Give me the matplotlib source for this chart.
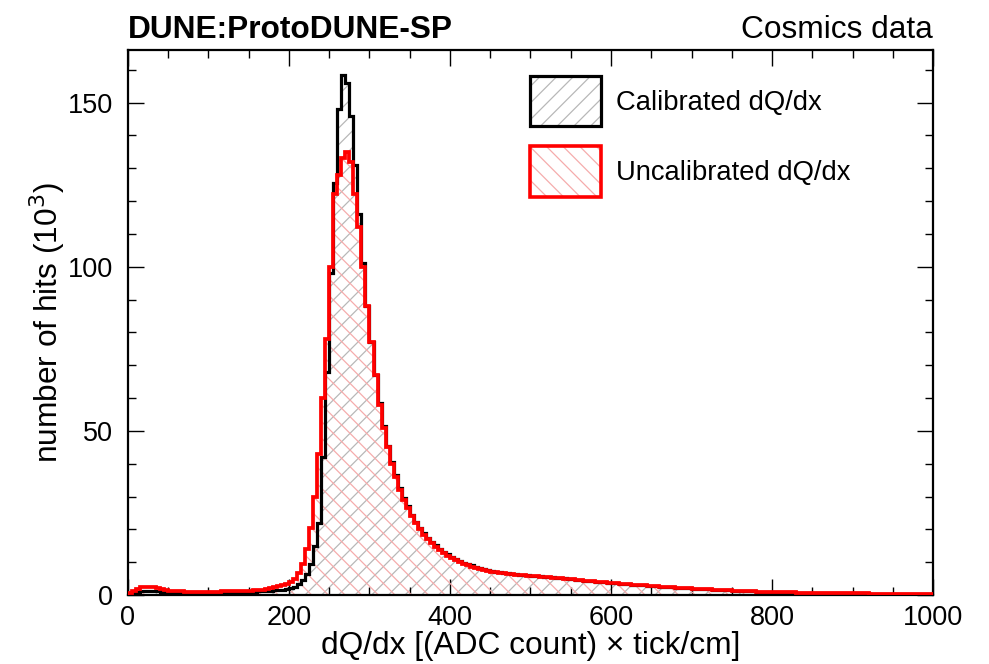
import numpy as np
import matplotlib
matplotlib.use('Agg')
import matplotlib.pyplot as plt
from matplotlib.patches import Patch
from matplotlib.ticker import MultipleLocator

plt.rcParams['font.family'] = ['Liberation Sans', 'DejaVu Sans']
plt.rcParams['hatch.linewidth'] = 0.9

######################################################

## Histogram contents, 200 bins of 5 between 0 and 1000 (hits in 10^3)

bin_lo = 0
bin_hi = 1000
n_bins = 200

calibrated = [
	0.4, 0.8, 1.0, 1.2, 1.3, 1.3, 1.2, 1.1, 1.0, 0.9,
	0.9, 0.8, 0.8, 0.8, 0.8, 0.8, 0.8, 0.8, 0.8, 0.8,
	0.8, 0.8, 0.8, 0.85, 0.85, 0.9, 0.9, 0.9, 0.95, 0.95,
	1.0, 1.0, 1.1, 1.1, 1.2, 1.3, 1.4, 1.5, 1.6, 1.7,
	2.0, 2.5, 3.3, 4.6, 6.5, 9.5, 15, 22, 42, 68,
	98, 125.5, 148, 158.5, 156, 146, 131, 116, 101, 88,
	77, 67, 58.5, 51.5, 45.5, 40.5, 36.5, 32.5, 29.5, 27,
	24.5, 22.3, 20.4, 18.8, 17.4, 16.2, 15.1, 14.1, 13.2, 12.4,
	11.7, 11.0, 10.4, 9.9, 9.4, 9.0, 8.6, 8.2, 7.9, 7.6,
	7.3, 7.1, 6.9, 6.8, 6.6, 6.5, 6.3, 6.2, 6.1, 6.0,
	5.9, 5.8, 5.7, 5.6, 5.5, 5.4, 5.3, 5.2, 5.1, 5.0,
	4.8, 4.7, 4.5, 4.4, 4.3, 4.2, 4.1, 4.0, 3.9, 3.8,
	3.7, 3.6, 3.5, 3.4, 3.3, 3.2, 3.1, 3.0, 2.9, 2.8,
	2.7, 2.6, 2.5, 2.45, 2.4, 2.3, 2.2, 2.15, 2.1, 2.0,
	1.95, 1.9, 1.8, 1.75, 1.7, 1.6, 1.55, 1.5, 1.45, 1.4,
	1.35, 1.3, 1.25, 1.2, 1.15, 1.1, 1.05, 1.0, 1.0, 0.95,
	0.9, 0.9, 0.85, 0.85, 0.8, 0.8, 0.75, 0.75, 0.7, 0.7,
	0.68, 0.66, 0.64, 0.62, 0.6, 0.58, 0.56, 0.55, 0.54, 0.52,
	0.5, 0.49, 0.48, 0.47, 0.46, 0.45, 0.44, 0.43, 0.42, 0.41,
	0.4, 0.39, 0.38, 0.37, 0.36, 0.35, 0.34, 0.33, 0.32, 0.31,
]

uncalibrated = [
	0.6, 1.2, 1.9, 2.3, 2.5, 2.5, 2.3, 2.0, 1.7, 1.5,
	1.3, 1.2, 1.1, 1.1, 1.0, 1.0, 1.0, 1.0, 1.0, 1.0,
	1.0, 1.0, 1.0, 1.1, 1.1, 1.1, 1.1, 1.2, 1.2, 1.2,
	1.3, 1.4, 1.5, 1.6, 1.8, 2.0, 2.3, 2.6, 2.9, 3.3,
	4.0, 5.0, 6.8, 9.5, 14, 20.5, 30, 43, 60, 78,
	100, 122, 128, 133, 135, 132, 122, 112, 100, 88,
	77, 67, 58, 51, 45, 40, 36, 32, 29, 26.5,
	24, 22, 20, 18.4, 17, 15.8, 14.7, 13.7, 12.8, 12.0,
	11.3, 10.6, 10.0, 9.5, 9.0, 8.6, 8.2, 7.9, 7.6, 7.3,
	7.1, 6.9, 6.7, 6.6, 6.5, 6.4, 6.2, 6.1, 6.0, 5.9,
	5.8, 5.7, 5.6, 5.5, 5.4, 5.3, 5.2, 5.1, 5.0, 4.9,
	4.8, 4.7, 4.5, 4.4, 4.3, 4.2, 4.1, 4.0, 3.9, 3.8,
	3.7, 3.6, 3.5, 3.4, 3.3, 3.2, 3.1, 3.0, 2.9, 2.8,
	2.7, 2.6, 2.5, 2.45, 2.4, 2.3, 2.2, 2.15, 2.1, 2.0,
	1.95, 1.9, 1.8, 1.75, 1.7, 1.6, 1.55, 1.5, 1.45, 1.4,
	1.35, 1.3, 1.25, 1.2, 1.15, 1.1, 1.05, 1.0, 1.0, 0.95,
	0.9, 0.9, 0.85, 0.85, 0.8, 0.8, 0.75, 0.75, 0.7, 0.7,
	0.68, 0.66, 0.64, 0.62, 0.6, 0.58, 0.56, 0.55, 0.54, 0.52,
	0.5, 0.49, 0.48, 0.47, 0.46, 0.45, 0.44, 0.43, 0.42, 0.41,
	0.4, 0.39, 0.38, 0.37, 0.36, 0.35, 0.34, 0.33, 0.32, 0.31,
]

labels = ['Calibrated dQ/dx', 'Uncalibrated dQ/dx']

######################################################

edges = np.linspace(bin_lo, bin_hi, n_bins + 1)

fig = plt.figure(figsize=(9.89, 6.64), dpi=100)
ax = fig.add_axes([0.1294, 0.1039, 0.8140, 0.8208])

HATCH_K = '#b8b8b8'
HATCH_R = '#f5acac'
BIG = 22.8   # titles and axis labels
SMALL = 19.5 # tick labels

# hatch fills (no edge), then the outlines on top
ax.stairs(calibrated, edges, fill=True, facecolor='none', edgecolor=HATCH_K, hatch='//', linewidth=0, zorder=1)
ax.stairs(uncalibrated, edges, fill=True, facecolor='none', edgecolor=HATCH_R, hatch='\\\\', linewidth=0, zorder=2)
ax.stairs(calibrated, edges, color='black', linewidth=2.3, zorder=3)
ax.stairs(uncalibrated, edges, color='red', linewidth=2.7, zorder=4)

ax.set_xlim(0, 1000)
ax.set_ylim(0, 166)

ax.xaxis.set_major_locator(MultipleLocator(200))
ax.xaxis.set_minor_locator(MultipleLocator(50))
ax.yaxis.set_major_locator(MultipleLocator(50))
ax.yaxis.set_minor_locator(MultipleLocator(10))
ax.tick_params(which='both', direction='in', top=True, right=True, width=1.0, labelsize=SMALL)
ax.tick_params(axis='x', pad=7)
ax.tick_params(axis='y', pad=11)
ax.tick_params(which='major', length=11.5)
ax.tick_params(which='minor', length=6)
for s in ax.spines.values():
	s.set_linewidth(1.6)

ax.set_xlabel('dQ/dx [(ADC count) \u00d7 tick/cm]', fontsize=BIG, labelpad=0)
ax.set_ylabel('number of hits (10$^{3}$)', fontsize=BIG, labelpad=0)

ax.text(0.0, 1.022, 'DUNE:ProtoDUNE-SP', transform=ax.transAxes, fontsize=BIG, fontweight='bold', ha='left', va='baseline')
ax.text(1.0, 1.022, 'Cosmics data', transform=ax.transAxes, fontsize=BIG, ha='right', va='baseline')

# legend boxes: hatch patch plus outline patch overlaid
h_cal = (Patch(facecolor='none', edgecolor=HATCH_K, hatch='//', linewidth=0),
	Patch(facecolor='none', edgecolor='black', linewidth=2.3))
h_unc = (Patch(facecolor='none', edgecolor=HATCH_R, hatch='\\\\', linewidth=0),
	Patch(facecolor='none', edgecolor='red', linewidth=2.6))
ax.legend([h_cal, h_unc], labels, loc='upper left', bbox_to_anchor=(0.499, 0.952),
	frameon=False, fontsize=19.7, handlelength=2.6, handleheight=2.45,
	labelspacing=0.73, handletextpad=0.55, borderpad=0, borderaxespad=0)

plt.savefig('out.png', dpi=100)
